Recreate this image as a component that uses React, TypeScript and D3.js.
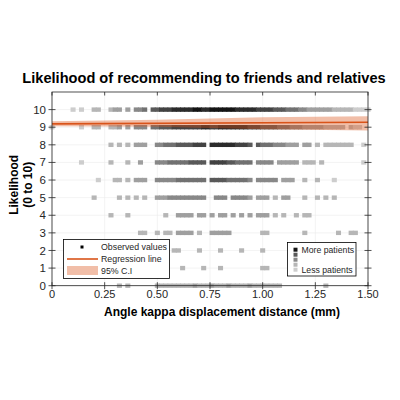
import React, { useEffect, useRef } from "react";
import * as d3 from "d3";

const title = "Likelihood of recommending to friends and relatives";
const xLabel = "Angle kappa displacement distance (mm)";
const yLabelLines = ["Likelihood", "(0 to 10)"];

const xTicks = [0, 0.25, 0.5, 0.75, 1.0, 1.25, 1.5];
const xTickLabels = ["0", "0.25", "0.50", "0.75", "1.00", "1.25", "1.50"];
const yTicks = [0, 1, 2, 3, 4, 5, 6, 7, 8, 9, 10];

// columns are 0.02 mm apart, starting at 0
const binStep = 0.02;

// one digit per column: 0 = nobody, 1 = few patients ... 9 = many patients
const density10 = "0000010100220023303044506677788888998899999988888777766655544333333222221111";
const density9 = "1000000100220022303044405566677777778877888888877766665554443333322222021100";
const density8 = "0000000000000020202033300445556666777088888877760655544433303302022222220010";
const density7 = "0000000100000020002003000444555556666077776655550444403333302220200000000010";
const density6 = "0000000000010002202033300444445555555066665555540444440333002002000100000000";
const density5 = "0000000000200000202020200333444444444004440444430333020330002002020200000000";
const density4 = "0000000000000020002000000002003333033030330303030333020200202200000000000000";
const density3 = "0000000000000000000002200202203333020033333000000022000000002000000020022000";
const density2 = "0000000000000000000000000000022000020000200002000020000000000000000000000000";
const density1 = "0000000000000000000000000000000200002000200000000022000000000000000000000000";
const density0 = "0000000000000000202000000222222222322232223222232222222000000000020000000000";

const densityRows = [
  density0, density1, density2, density3, density4, density5,
  density6, density7, density8, density9, density10,
];

const regressionX = [0, 1.5];
const regressionY = [9.19, 9.28];

const ciX = [0, 0.5, 1.0, 1.5];
const ciLow = [9.06, 9.02, 8.88, 8.82];
const ciHigh = [9.34, 9.42, 9.56, 9.62];

const densityLegendLevels = [9, 6, 4, 2, 1];

function App(): JSX.Element {
  const svgRef = useRef<SVGSVGElement>(null);

  useEffect(() => {
    const svg = d3.select(svgRef.current);
    svg.selectAll("*").remove();

    const left = 52;
    const right = 368;
    const top = 92;
    const bottom = 285.7;
    const font = "'Liberation Sans', Arial, sans-serif";
    const ink = "#262626";
    const orange = "#d95319";

    const x = d3.scaleLinear().domain([0, 1.5]).range([left, right]);
    const y = d3.scaleLinear().domain([0, 11]).range([bottom, top]);
    const gray = d3
      .scaleLinear<string>()
      .domain([1, 9])
      .range(["#cdcdcd", "#141414"]);

    svg.append("rect").attr("width", 400).attr("height", 400).attr("fill", "white");

    // grid
    const grid = svg.append("g").attr("stroke", "#ebebeb").attr("stroke-width", 0.6);
    xTicks.forEach((t) => {
      grid.append("line").attr("x1", x(t)).attr("x2", x(t)).attr("y1", top).attr("y2", bottom);
    });
    yTicks.forEach((t) => {
      grid.append("line").attr("x1", left).attr("x2", right).attr("y1", y(t)).attr("y2", y(t));
    });

    // observed values
    const markW = x(0.024) - x(0);
    const markH = 4.4;
    const marks = svg.append("g");
    densityRows.forEach((row, score) => {
      row.split("").forEach((ch, i) => {
        const level = +ch;
        if (level === 0) return;
        marks
          .append("rect")
          .attr("x", x(i * binStep) - markW / 2)
          .attr("y", y(score) - markH / 2)
          .attr("width", markW)
          .attr("height", markH)
          .attr("fill", gray(level));
      });
    });

    // confidence band + regression line
    const area = d3
      .area<number>()
      .x((_, i) => x(ciX[i]))
      .y0((d) => y(d))
      .y1((_, i) => y(ciHigh[i]));
    svg
      .append("path")
      .datum(ciLow)
      .attr("d", area)
      .attr("fill", orange)
      .attr("fill-opacity", 0.38);

    const line = d3
      .line<number>()
      .x((_, i) => x(regressionX[i]))
      .y((d) => y(d));
    svg
      .append("path")
      .datum(regressionY)
      .attr("d", line)
      .attr("fill", "none")
      .attr("stroke", orange)
      .attr("stroke-width", 1.6);

    // axes box and ticks (both directions)
    const axes = svg.append("g").attr("stroke", ink).attr("stroke-width", 0.8);
    axes
      .append("rect")
      .attr("x", left)
      .attr("y", top)
      .attr("width", right - left)
      .attr("height", bottom - top)
      .attr("fill", "none");
    const tk = 3.5;
    xTicks.forEach((t) => {
      axes.append("line").attr("x1", x(t)).attr("x2", x(t)).attr("y1", bottom - tk).attr("y2", bottom + tk);
      axes.append("line").attr("x1", x(t)).attr("x2", x(t)).attr("y1", top).attr("y2", top + tk);
    });
    yTicks.forEach((t) => {
      axes.append("line").attr("x1", left - tk).attr("x2", left + tk).attr("y1", y(t)).attr("y2", y(t));
      axes.append("line").attr("x1", right - tk).attr("x2", right + tk).attr("y1", y(t)).attr("y2", y(t));
    });

    const labels = svg.append("g").attr("font-family", font).attr("fill", ink);
    xTicks.forEach((t, i) => {
      labels
        .append("text")
        .attr("x", x(t))
        .attr("y", 298)
        .attr("text-anchor", "middle")
        .attr("font-size", 11)
        .text(xTickLabels[i]);
    });
    yTicks.forEach((t) => {
      labels
        .append("text")
        .attr("x", 46)
        .attr("y", y(t))
        .attr("dy", "0.35em")
        .attr("text-anchor", "end")
        .attr("font-size", 11.5)
        .text(String(t));
    });

    svg
      .append("text")
      .attr("x", 204)
      .attr("y", 83)
      .attr("text-anchor", "middle")
      .attr("font-family", font)
      .attr("font-weight", "bold")
      .attr("font-size", 14.6)
      .attr("fill", "black")
      .text(title);

    svg
      .append("text")
      .attr("x", 222)
      .attr("y", 316)
      .attr("text-anchor", "middle")
      .attr("font-family", font)
      .attr("font-weight", "bold")
      .attr("font-size", 12)
      .attr("fill", "black")
      .text(xLabel);

    const yl = svg
      .append("text")
      .attr("transform", `translate(17.5,${(top + bottom) / 2 - 4}) rotate(-90)`)
      .attr("text-anchor", "middle")
      .attr("font-family", font)
      .attr("font-weight", "bold")
      .attr("font-size", 12)
      .attr("fill", "black");
    yLabelLines.forEach((s, i) => {
      yl.append("tspan").attr("x", 0).attr("dy", i === 0 ? 0 : 14).text(s);
    });

    // legend: series
    const lg = svg.append("g").attr("font-family", font).attr("font-size", 8.8);
    lg.append("rect")
      .attr("x", 63.5)
      .attr("y", 239.5)
      .attr("width", 106)
      .attr("height", 39)
      .attr("fill", "white")
      .attr("stroke", "black")
      .attr("stroke-width", 0.8);
    lg.append("rect").attr("x", 80.5).attr("y", 245.5).attr("width", 3).attr("height", 3).attr("fill", "black");
    lg.append("line")
      .attr("x1", 67)
      .attr("x2", 98)
      .attr("y1", 259)
      .attr("y2", 259)
      .attr("stroke", orange)
      .attr("stroke-width", 1.6);
    lg.append("rect")
      .attr("x", 67)
      .attr("y", 266)
      .attr("width", 31)
      .attr("height", 9)
      .attr("fill", orange)
      .attr("fill-opacity", 0.38);
    ["Observed values", "Regression line", "95% C.I"].forEach((s, i) => {
      lg.append("text")
        .attr("x", 101)
        .attr("y", 247 + i * 12.2)
        .attr("dy", "0.35em")
        .attr("fill", ink)
        .text(s);
    });

    // legend: density
    const dg = svg.append("g").attr("font-family", font).attr("font-size", 8.7);
    dg.append("rect")
      .attr("x", 287.5)
      .attr("y", 242.5)
      .attr("width", 68.5)
      .attr("height", 33.5)
      .attr("fill", "white")
      .attr("stroke", "black")
      .attr("stroke-width", 0.8);
    densityLegendLevels.forEach((lv, i) => {
      dg.append("rect")
        .attr("x", 293.5)
        .attr("y", 247.7 + i * 5)
        .attr("width", 4)
        .attr("height", 4)
        .attr("fill", gray(lv));
    });
    dg.append("text").attr("x", 301.5).attr("y", 250).attr("dy", "0.35em").attr("fill", ink).text("More patients");
    dg.append("text").attr("x", 301.5).attr("y", 269.5).attr("dy", "0.35em").attr("fill", ink).text("Less patients");
  }, []);

  return (
    <svg
      ref={svgRef}
      width={400}
      height={400}
      style={{ position: "absolute", left: 0, top: 0 }}
    />
  );
}

export default App;
